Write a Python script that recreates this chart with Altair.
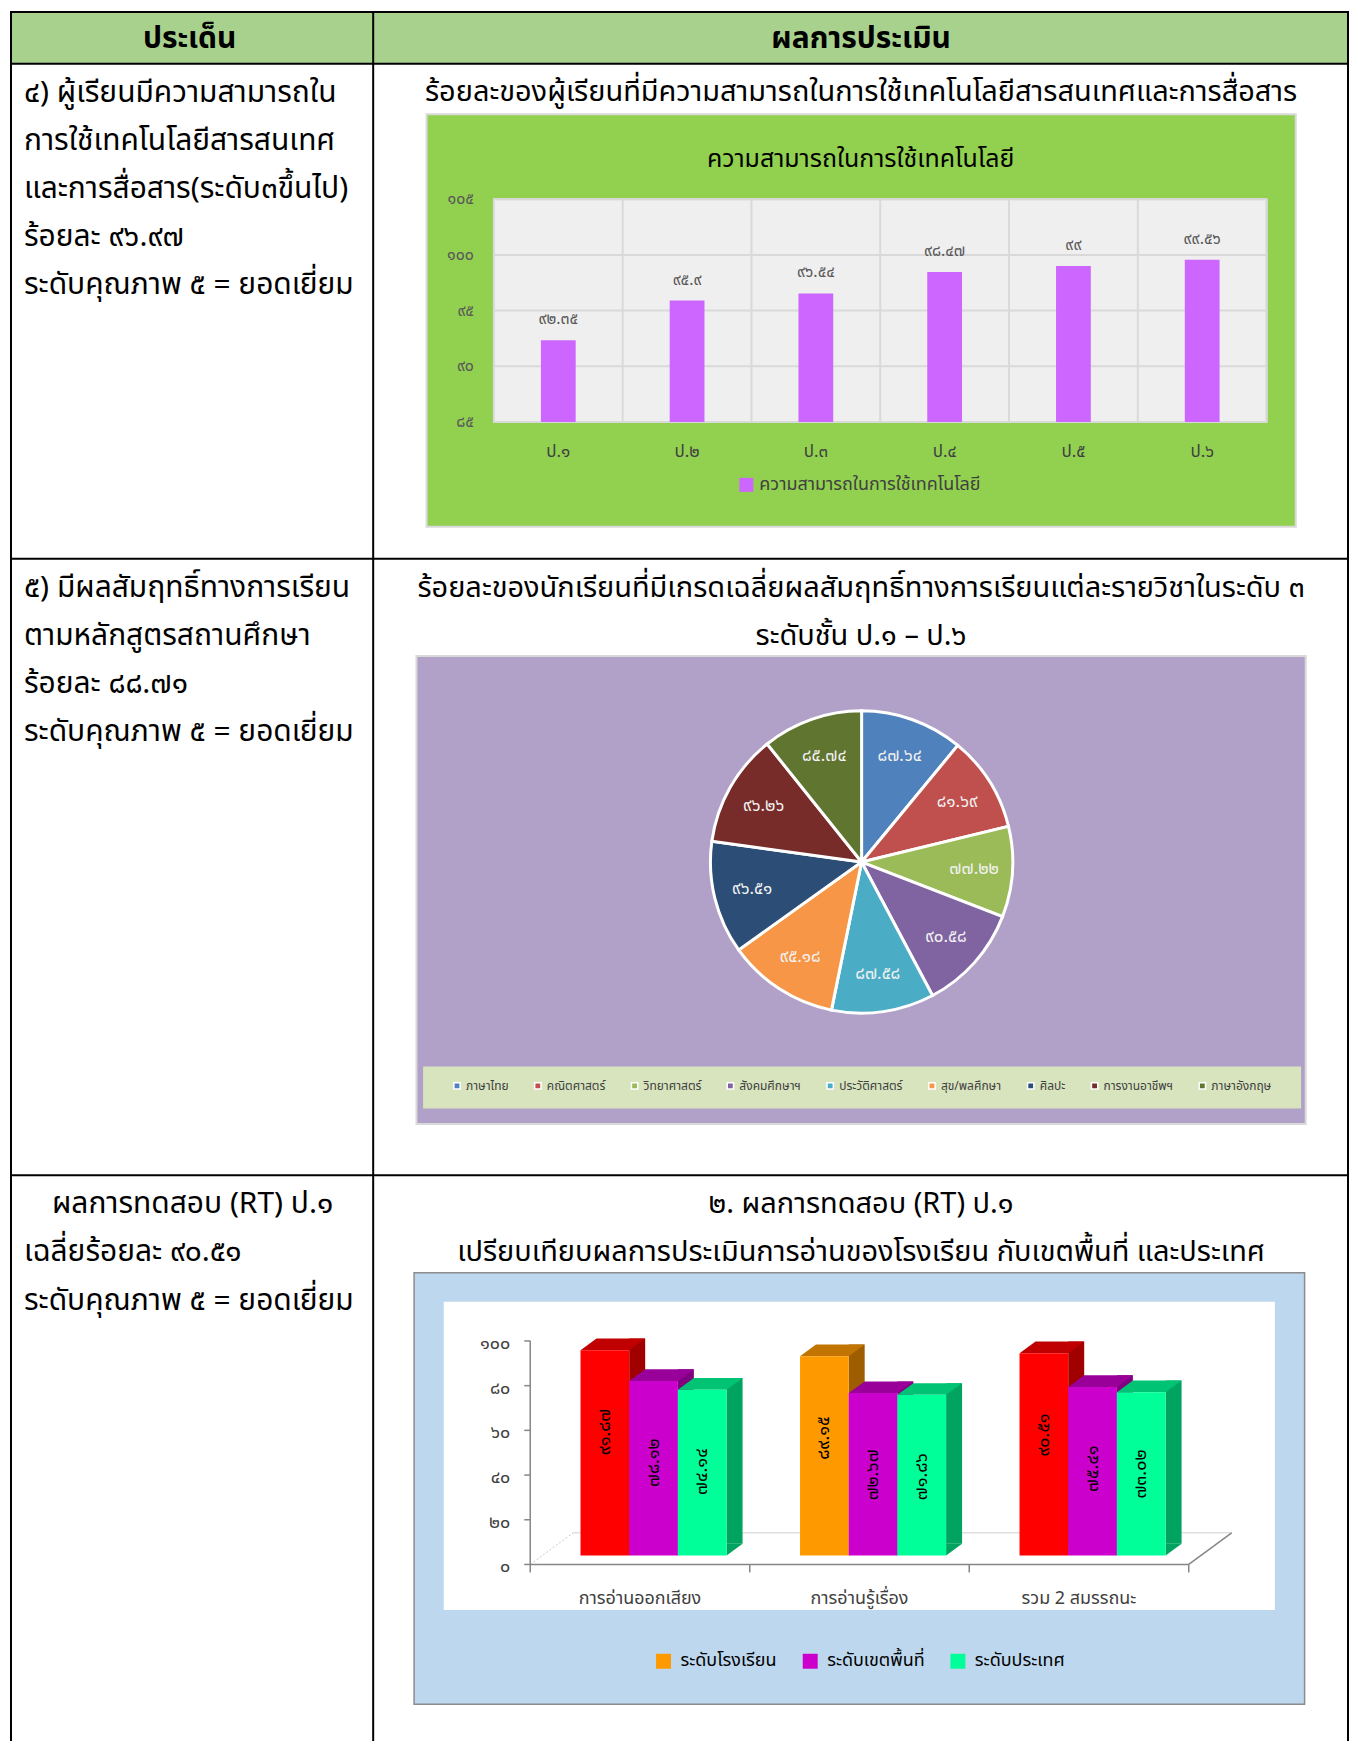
import altair as alt
import pandas as pd

FONT = "Noto Sans Thai, Noto Sans Thai UI, Noto Sans, sans-serif"
THAI_DIGITS = str.maketrans("0123456789", "๐๑๒๓๔๕๖๗๘๙")


def th(v):
    return f"{v:g}".translate(THAI_DIGITS)


# ---------------- data ----------------
head_left = "ประเด็น"
head_right = "ผลการประเมิน"

r1_lines = ["๔)  ผู้เรียนมีความสามารถใน", "การใช้เทคโนโลยีสารสนเทศ",
            "และการสื่อสาร(ระดับ๓ขึ้นไป)", "ร้อยละ ๙๖.๙๗", "ระดับคุณภาพ ๕ = ยอดเยี่ยม"]
r1_caption = "ร้อยละของผู้เรียนที่มีความสามารถในการใช้เทคโนโลยีสารสนเทศและการสื่อสาร"
tech_title = "ความสามารถในการใช้เทคโนโลยี"
tech_series = "ความสามารถในการใช้เทคโนโลยี"
tech_grades = ["ป.๑", "ป.๒", "ป.๓", "ป.๔", "ป.๕", "ป.๖"]
tech_values = [92.35, 95.9, 96.54, 98.47, 99, 99.56]
tech_ticks = [85, 90, 95, 100, 105]

r2_lines = ["๕)  มีผลสัมฤทธิ์ทางการเรียน", "ตามหลักสูตรสถานศึกษา",
            "ร้อยละ ๘๘.๗๑", "ระดับคุณภาพ ๕ = ยอดเยี่ยม"]
r2_caption = ["ร้อยละของนักเรียนที่มีเกรดเฉลี่ยผลสัมฤทธิ์ทางการเรียนแต่ละรายวิชาในระดับ ๓",
              "ระดับชั้น ป.๑ – ป.๖"]
subjects = ["ภาษาไทย", "คณิตศาสตร์", "วิทยาศาสตร์", "สังคมศึกษาฯ", "ประวัติศาสตร์",
            "สุข/พลศึกษา", "ศิลปะ", "การงานอาชีพฯ", "ภาษาอังกฤษ"]
subject_values = [87.64, 81.69, 77.22, 90.58, 87.58, 95.18, 96.51, 96.26, 85.74]

r3_lines = ["ผลการทดสอบ (RT) ป.๑", "เฉลี่ยร้อยละ ๙๐.๕๑", "ระดับคุณภาพ ๕ = ยอดเยี่ยม"]
r3_caption = ["๒. ผลการทดสอบ (RT) ป.๑",
              "เปรียบเทียบผลการประเมินการอ่านของโรงเรียน กับเขตพื้นที่ และประเทศ"]
rt_groups = ["การอ่านออกเสียง", "การอ่านรู้เรื่อง", "รวม 2 สมรรถนะ"]
rt_levels = ["ระดับโรงเรียน", "ระดับเขตพื้นที่", "ระดับประเทศ"]
rt_school = [91.87, 89.15, 90.51]
rt_area = [78.12, 72.67, 75.41]
rt_nation = [74.14, 71.86, 73.02]
rt_ticks = [0, 20, 40, 60, 80, 100]

# ---------------- styles ----------------
pie_colors = ["#4f81bd", "#c0504d", "#9bbb59", "#8064a2", "#4bacc6",
              "#f79646", "#2c4d75", "#772c2a", "#5f7530"]
rt_front = ["#ff9900", "#cc00cc", "#00ff99"]
rt_top = ["#c27400", "#990099", "#00c474"]
rt_side = ["#9e5e00", "#800080", "#00a35f"]
RED_FRONT, RED_TOP, RED_SIDE = "#ff0000", "#c00000", "#a00000"
RED_GROUPS = [rt_groups[0], rt_groups[2]]   # school bars drawn in red in the original

W, COL, RIGHT = 1341, 363, 1340
H0, H1, H2, H3 = 52, 496, 618, 567
LINE = 48.3
FS_LEFT = 30
FS_CAP = 29
one = pd.DataFrame({"k": [0]})


def rule(x, y, x2=None, y2=None, color="black", width=2, dash=None):
    kw = dict(color=color, strokeWidth=width)
    if dash:
        kw["strokeDash"] = dash
    enc = dict(x=alt.value(x), y=alt.value(y))
    if x2 is not None:
        enc["x2"] = alt.value(x2)
    if y2 is not None:
        enc["y2"] = alt.value(y2)
    return alt.Chart(one).mark_rule(**kw).encode(**enc)


def box(x, y, x2, y2, fill, stroke=None, sw=0):
    kw = dict(fill=fill)
    if stroke:
        kw.update(stroke=stroke, strokeWidth=sw)
    else:
        kw.update(strokeWidth=0)
    return alt.Chart(one).mark_rect(**kw).encode(
        x=alt.value(x), x2=alt.value(x2), y=alt.value(y), y2=alt.value(y2))


def label(s, x, y, size, align="left", color="black", weight="normal"):
    return alt.Chart(one).mark_text(
        text=s, align=align, baseline="middle", font=FONT, fontSize=size,
        color=color, fontWeight=weight).encode(x=alt.value(x), y=alt.value(y))


def frame(h):
    return [rule(-1, 0, RIGHT + 1, 0), rule(0, 0, None, h),
            rule(COL, 0, None, h), rule(RIGHT, 0, None, h)]


# ---------------- header ----------------
header = alt.layer(
    box(0, 0, RIGHT, H0, "#a9d18e"),
    *frame(H0),
    label(head_left, 179, 27, 30, "center", weight="bold"),
    label(head_right, 852, 27, 30, "center", weight="bold"),
).properties(width=W, height=H0)

# ---------------- row 1: bar chart ----------------
df1 = pd.DataFrame({"g": tech_grades, "v": tech_values,
                    "lab": [th(v) for v in tech_values], "series": tech_series})
t1 = pd.DataFrame({"v": tech_ticks, "lab": [th(v) for v in tech_ticks]})
PX0, PX1, PY0, PY1 = 484, 1258.4, 135.7, 359
step1 = (PX1 - PX0) / len(tech_grades)
xs1 = alt.Scale(domain=tech_grades, range=[PX0, PX1], paddingInner=0.73, paddingOuter=0.365)
ys1 = alt.Scale(domain=[85, 105], range=[PY1, PY0])
X1 = alt.X("g:N", scale=xs1, axis=None)
Y1 = alt.Y("v:Q", scale=ys1, axis=None)

bars1 = alt.Chart(df1).mark_bar().encode(
    x=X1, y=Y1, y2=alt.datum(85),
    color=alt.Color("series:N", scale=alt.Scale(domain=[tech_series], range=["#cc66ff"]),
                    legend=alt.Legend(orient="none", legendX=728, legendY=413, title=None,
                                      symbolType="square", symbolSize=196, symbolStrokeWidth=0,
                                      labelFont=FONT, labelFontSize=18, labelColor="#404040",
                                      labelOffset=4, labelLimit=500, padding=0)))
r1_grid_h = alt.Chart(t1).mark_rule(color="#d9d9d9", strokeWidth=2).encode(
    y=Y1, x=alt.value(PX0), x2=alt.value(PX1))
r1_grid_v = alt.Chart(df1).mark_rule(color="#d9d9d9", strokeWidth=2, xOffset=step1 / 2).encode(
    x=X1, y=alt.value(PY0), y2=alt.value(PY1))
r1_texts = [
    alt.Chart(df1).mark_text(dy=-21, font=FONT, fontSize=16, color="#595959").encode(
        x=X1, y=Y1, text="lab:N"),
    alt.Chart(t1).mark_text(align="right", font=FONT, fontSize=16, color="#595959").encode(
        x=alt.value(464), y=Y1, text="lab:N"),
    alt.Chart(df1).mark_text(font=FONT, fontSize=17, color="#404040").encode(
        x=X1, y=alt.value(389), text="g:N"),
]

row1 = alt.layer(
    *frame(H1),
    *[label(s, 13, 29 + i * LINE, FS_LEFT) for i, s in enumerate(r1_lines)],
    label(r1_caption, 852, 28, FS_CAP, "center"),
    box(416.5, 50.5, 1287.6, 464, "#92d050", "#d9d9d9", 2),
    label(tech_title, 851.5, 95.7, 25, "center"),
    box(PX0, PY0, PX1, PY1, "#efefef", "#d9d9d9", 2),
    r1_grid_h, r1_grid_v, bars1, *r1_texts,
).properties(width=W, height=H1)

# ---------------- row 2: pie chart ----------------
df2 = pd.DataFrame({"s": subjects, "v": subject_values,
                    "lab": [th(v) for v in subject_values], "i": list(range(len(subjects)))})
CX, CY = 852.5, 304
theta = alt.Theta("v:Q", stack=True)
pie = alt.Chart(df2).mark_arc(outerRadius=151.5, stroke="white", strokeWidth=3).encode(
    theta=theta, order=alt.Order("i:Q"),
    x=alt.value(CX), y=alt.value(CY),
    color=alt.Color("s:N", scale=alt.Scale(domain=subjects, range=pie_colors),
                    legend=alt.Legend(orient="none", legendX=441, legendY=522, title=None,
                                      direction="horizontal", symbolType="square",
                                      symbolSize=40, symbolStrokeColor="white",
                                      symbolStrokeWidth=1.5, labelFont=FONT, labelFontSize=12,
                                      labelColor="#404040", columnPadding=22, labelOffset=3,
                                      labelLimit=300, padding=0)))
pie_labels = alt.Chart(df2).mark_text(radius=113, font=FONT, fontSize=17, color="#f2f2f2").encode(
    theta=theta, order=alt.Order("i:Q"), x=alt.value(CX), y=alt.value(CY), text="lab:N")

row2 = alt.layer(
    *frame(H2),
    *[label(s, 13, 29 + i * LINE, FS_LEFT) for i, s in enumerate(r2_lines)],
    *[label(s, 852, 29 + i * LINE, FS_CAP, "center") for i, s in enumerate(r2_caption)],
    box(406.4, 97.4, 1297.6, 566.5, "#b1a0c7", "#d9d9d9", 2),
    box(413, 509, 1293, 551, "#d7e4bd"),
    pie, pie_labels,
).properties(width=W, height=H2)

# ---------------- row 3: 3D grouped bars ----------------
rows = []
for gi, g in enumerate(rt_groups):
    for s, vals in zip(rt_levels, [rt_school, rt_area, rt_nation]):
        rows.append({"g": g, "s": s, "v": vals[gi], "lab": th(vals[gi])})
df3 = pd.DataFrame(rows)
dg = pd.DataFrame({"g": rt_groups})
t3 = pd.DataFrame({"v": rt_ticks, "lab": [th(v) for v in rt_ticks]})

BX0, BX1 = 534, 1194
step3 = (BX1 - BX0) / len(rt_groups)
xs3 = alt.Scale(domain=rt_groups, range=[BX0, BX1], paddingInner=0.3345, paddingOuter=0.16725)
ys3 = alt.Scale(domain=[0, 100], range=[381, 157])
X3 = alt.X("g:N", scale=xs3, axis=None)
Y3 = alt.Y("v:Q", scale=ys3, axis=None)
Y3BASE = alt.Y("base:Q", scale=ys3, axis=None)
cs3 = alt.Scale(domain=rt_levels, range=rt_front)
leg3 = alt.Legend(orient="none", legendX=645, legendY=478, title=None,
                  direction="horizontal", symbolType="square",
                  symbolSize=225, symbolStrokeWidth=0, labelFont=FONT,
                  labelFontSize=18, labelColor="black", columnPadding=24,
                  labelOffset=8, labelLimit=300, padding=0)
BW = step3 * (1 - 0.3345) / 3
DX, DY = 16, 11.7
SHIFT_X, SHIFT_Y = 13.6, 9
AX0 = BX0 - SHIFT_X
AX1 = BX1 - SHIFT_X
AY0 = 381 + SHIFT_Y
DEPX, DEPY = 43, 31.7

top_path = f"M {-BW/2:.2f} 0 L {BW/2:.2f} 0 L {BW/2+DX:.2f} {-DY} L {-BW/2+DX:.2f} {-DY} Z"
bot_path = f"M {BW/2:.2f} {-DY} L {BW/2+DX:.2f} {-DY} L {BW/2:.2f} 0 Z"

# split into drawing parts: (subset, offset, front colour or None for scale, top, side)
parts = []
for si, s in enumerate(rt_levels):
    d = df3[df3.s == s]
    off = (si - 1) * BW
    if si == 0:
        red = d[d.g.isin(RED_GROUPS)]
        rest = d[~d.g.isin(RED_GROUPS)]
        parts.append((red, off, RED_FRONT, RED_TOP, RED_SIDE))
        parts.append((rest, off, None, rt_top[0], rt_side[0]))
    else:
        parts.append((d, off, None, rt_top[si], rt_side[si]))

side_layers, bot_layers, top_layers, front_layers, val_layers = [], [], [], [], []
for d, off, cf, ct, cside in parts:
    side_layers.append(alt.Chart(d).mark_bar(
        width=DX, xOffset=off + BW / 2 + DX / 2, yOffset=-DY, y2Offset=-DY, color=cside).encode(
        x=X3, y=Y3, y2=alt.datum(0)))
    bot_layers.append(alt.Chart(d).transform_calculate(base="0").mark_point(
        shape=bot_path, size=4, filled=True, opacity=1, strokeWidth=0, xOffset=off,
        color=cside).encode(x=X3, y=Y3BASE))
    top_layers.append(alt.Chart(d).mark_point(
        shape=top_path, size=4, filled=True, opacity=1, strokeWidth=0, xOffset=off,
        color=ct).encode(x=X3, y=Y3))
    if cf is None:
        front_layers.append(alt.Chart(d).mark_bar(width=BW, xOffset=off).encode(
            x=X3, y=Y3, y2=alt.datum(0), color=alt.Color("s:N", scale=cs3, legend=leg3)))
    else:
        front_layers.append(alt.Chart(d).mark_bar(width=BW, xOffset=off, color=cf).encode(
            x=X3, y=Y3, y2=alt.datum(0)))
    val_layers.append(alt.Chart(d).mark_text(
        angle=270, font=FONT, fontSize=18, color="black", yOffset=82, xOffset=off).encode(
        x=X3, y=Y3, text="lab:N"))

r3_axis = [
    rule(AX0 + DEPX, AY0 - DEPY, AX1 + DEPX, AY0 - DEPY, color="#e0e0e0", width=1.5),
    rule(AX0, AY0, AX0 + DEPX, AY0 - DEPY, color="#c8c8c8", width=1, dash=[2, 2]),
    rule(AX0, AY0, None, AY0 - 224.3, color="#868686", width=1.5),
    alt.Chart(t3).mark_rule(color="#868686", strokeWidth=1.5, yOffset=SHIFT_Y).encode(
        y=Y3, x=alt.value(AX0 - 6), x2=alt.value(AX0)),
]
r3_floor = [
    rule(AX0, AY0, AX1, AY0, color="#868686", width=1.5),
    rule(AX1, AY0, AX1 + DEPX, AY0 - DEPY, color="#868686", width=1.5),
    alt.Chart(dg).mark_rule(color="#868686", strokeWidth=1.5, xOffset=-step3 / 2 - SHIFT_X).encode(
        x=X3, y=alt.value(AY0), y2=alt.value(AY0 + 8)),
    alt.Chart(dg.tail(1)).mark_rule(color="#868686", strokeWidth=1.5, xOffset=step3 / 2 - SHIFT_X).encode(
        x=X3, y=alt.value(AY0), y2=alt.value(AY0 + 8)),
]
r3_texts = [
    alt.Chart(t3).mark_text(align="right", font=FONT, fontSize=18, color="#404040",
                            yOffset=SHIFT_Y + 3).encode(
        x=alt.value(AX0 - 20), y=Y3, text="lab:N"),
    alt.Chart(dg).mark_text(font=FONT, fontSize=18, color="#404040", xOffset=-SHIFT_X).encode(
        x=X3, y=alt.value(425), text="g:N"),
]

row3 = alt.layer(
    *frame(H3),
    label(r3_lines[0], 41, 29, FS_LEFT),
    *[label(s, 13, 29 + (i + 1) * LINE, FS_LEFT) for i, s in enumerate(r3_lines[1:])],
    *[label(s, 852, 29 + i * LINE, FS_CAP, "center") for i, s in enumerate(r3_caption)],
    box(404, 97.7, 1296.5, 530, "#bdd7ee", "#8c8c8c", 1.5),
    box(433.7, 126.7, 1266.7, 435.7, "white"),
    *r3_axis,
    *side_layers, *bot_layers, *top_layers,
    *front_layers,
    *r3_floor,
    *val_layers,
    *r3_texts,
).properties(width=W, height=H3)

chart = alt.vconcat(header, row1, row2, row3, spacing=0, bounds="flush").resolve_scale(
    color="independent"
).resolve_legend(color="independent").properties(
    padding={"left": 1, "top": 1, "right": 0, "bottom": 0}
).configure_view(stroke=None)

chart.save("out.html", embed_options={"renderer": "svg", "actions": False})
